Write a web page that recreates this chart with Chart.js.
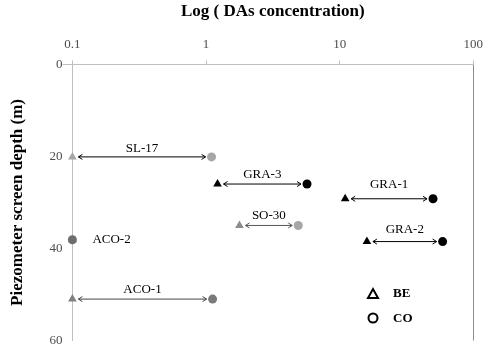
<!DOCTYPE html>
<html>
<head>
<meta charset="utf-8">
<script src="https://cdn.jsdelivr.net/npm/chart.js@4/dist/chart.umd.min.js"></script>
<style>
  html, body { margin: 0; padding: 0; background: #fff; }
  #wrap { width: 492px; height: 347px; }
</style>
</head>
<body>
<div id="wrap"><canvas id="chart"></canvas></div>
<script>
// wells, screen depth (m) and DAs concentration for BE and CO
const wells = ['SL-17', 'GRA-3', 'GRA-1', 'SO-30', 'GRA-2', 'ACO-2', 'ACO-1'];
const depths = [20.1, 26, 29.2, 35, 38.5, 38.1, 51];
const beValues = [0.1, 1.22, 11, 1.78, 16, 0.1, 0.1];
const coValues = [1.1, 5.7, 50, 4.9, 59, 0.1, 1.12];
const xTicks = [0.1, 1, 10, 100];
const yTicks = [0, 20, 40, 60];

// styling per well
const beColors = ['#a6a6a6', '#000', '#000', '#8c8c8c', '#000', '#6e6e6e', '#808080'];
const coColors = ['#a6a6a6', '#000', '#000', '#a6a6a6', '#000', '#6e6e6e', '#7a7a7a'];
const arrowColors = ['#000', '#000', '#000', '#555', '#000', '#000', '#444'];
const labelDy = [-8, -9, -14, -10, -12, 0, -10];

const FONT = '"Liberation Serif", "Times New Roman", serif';

const arrowsPlugin = {
    id: 'arrows',
    afterDatasetsDraw(chart) {
        const { ctx, scales: { x, y } } = chart;
        ctx.save();
        wells.forEach((name, i) => {
            const py = y.getPixelForValue(depths[i]);
            const x1 = x.getPixelForValue(beValues[i]);
            const x2 = x.getPixelForValue(coValues[i]);
            ctx.font = '13px ' + FONT;
            ctx.fillStyle = '#000';
            ctx.textBaseline = 'middle';
            if (beValues[i] === coValues[i]) {
                ctx.textAlign = 'left';
                ctx.fillText(name, x1 + 20, py + labelDy[i]);
                return;
            }
            const a = x1 + 6, b = x2 - 6;
            ctx.strokeStyle = arrowColors[i];
            ctx.lineWidth = 1;
            ctx.beginPath();
            ctx.moveTo(a, py);
            ctx.lineTo(b, py);
            ctx.moveTo(a + 4, py - 2.5);
            ctx.lineTo(a, py);
            ctx.lineTo(a + 4, py + 2.5);
            ctx.moveTo(b - 4, py - 2.5);
            ctx.lineTo(b, py);
            ctx.lineTo(b - 4, py + 2.5);
            ctx.stroke();
            ctx.textAlign = 'center';
            ctx.fillText(name, (x1 + x2) / 2, py + labelDy[i]);
        });

        // legend
        const lx = 373;
        ctx.strokeStyle = '#000';
        ctx.lineWidth = 2;
        ctx.beginPath();
        ctx.moveTo(lx - 5, 298);
        ctx.lineTo(lx + 5, 298);
        ctx.lineTo(lx, 289);
        ctx.closePath();
        ctx.stroke();
        ctx.beginPath();
        ctx.arc(lx, 318, 4.5, 0, Math.PI * 2);
        ctx.stroke();
        ctx.font = 'bold 13px ' + FONT;
        ctx.textAlign = 'left';
        ctx.textBaseline = 'middle';
        ctx.fillText('BE', 393, 294);
        ctx.fillText('CO', 393, 319);
        ctx.restore();
    }
};

new Chart(document.getElementById('chart'), {
    type: 'scatter',
    data: {
        datasets: [
            {
                label: 'CO',
                data: wells.map((w, i) => ({ x: coValues[i], y: depths[i] })),
                pointStyle: 'circle',
                pointRadius: 4.5,
                pointBackgroundColor: coColors,
                pointBorderColor: coColors,
                pointBorderWidth: 0,
                clip: false
            },
            {
                label: 'BE',
                data: wells.map((w, i) => ({ x: beValues[i], y: depths[i] })),
                pointStyle: 'triangle',
                pointRadius: 5,
                pointBackgroundColor: beColors,
                pointBorderColor: beColors,
                pointBorderWidth: 0,
                clip: false
            }
        ]
    },
    options: {
        responsive: true,
        maintainAspectRatio: false,
        animation: false,
        layout: { padding: { left: 7, right: 6, top: 1, bottom: 0 } },
        plugins: {
            legend: { display: false },
            tooltip: { enabled: false }
        },
        scales: {
            x: {
                type: 'logarithmic',
                position: 'top',
                min: 0.1,
                max: 100,
                afterBuildTicks: axis => { axis.ticks = xTicks.map(v => ({ value: v })); },
                ticks: {
                    color: '#4d4d4d',
                    font: { family: FONT, size: 13, lineHeight: 1 },
                    padding: 9,
                    callback: v => String(v)
                },
                grid: {
                    color: c => c.tick && c.tick.value === 100 ? '#8c8c8c' : 'rgba(0,0,0,0)',
                    tickColor: '#bfbfbf',
                    tickLength: 4,
                    drawTicks: true
                },
                border: { color: '#bfbfbf' },
                title: {
                    display: true,
                    text: 'Log ( DAs concentration)',
                    color: '#000',
                    font: { family: FONT, size: 17, weight: 'bold' },
                    padding: { top: 0, bottom: 8 }
                }
            },
            y: {
                reverse: true,
                min: 0,
                max: 60,
                afterBuildTicks: axis => { axis.ticks = yTicks.map(v => ({ value: v })); },
                ticks: {
                    color: '#4d4d4d',
                    font: { family: FONT, size: 13, lineHeight: 1 },
                    padding: 0
                },
                grid: {
                    drawOnChartArea: false,
                    tickColor: c => c.tick && c.tick.value === 0 ? '#bfbfbf' : 'rgba(0,0,0,0)',
                    tickLength: 10
                },
                border: { color: '#bfbfbf' },
                title: {
                    display: true,
                    text: 'Piezometer screen depth (m)',
                    color: '#000',
                    font: { family: FONT, size: 17, weight: 'bold' },
                    padding: { top: 0, bottom: 22 }
                }
            }
        }
    },
    plugins: [arrowsPlugin]
});
</script>
</body>
</html>
